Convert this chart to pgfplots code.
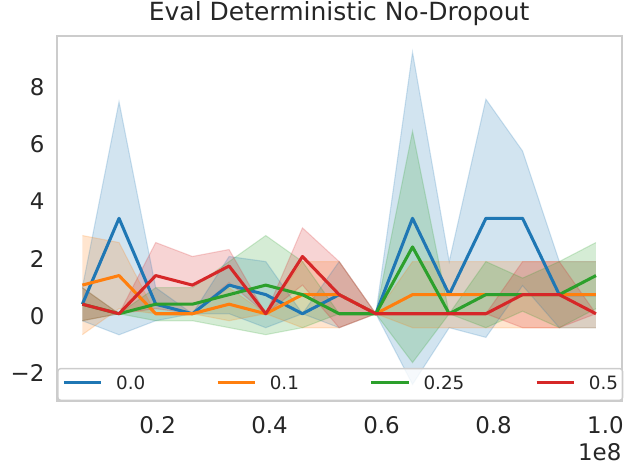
\documentclass[border=0pt]{standalone}
\usepackage{fontspec}
\setmainfont{DejaVu Sans}
\usepackage{pgfplots}
\usepackage{pgfplotstable}
\usepgfplotslibrary{fillbetween}
\pgfplotsset{compat=1.18}
\definecolor{cA}{RGB}{31,119,180}
\definecolor{cB}{RGB}{255,127,14}
\definecolor{cC}{RGB}{44,160,44}
\definecolor{cD}{RGB}{214,39,40}
\definecolor{txt}{RGB}{38,38,38}
\definecolor{frm}{RGB}{204,204,204}

\pgfplotstableread{
x m lo hi
0.065536 0.333 -0.244 0.911
0.131072 3.333 -0.737 7.403
0.196608 0.333 -0.244 0.911
0.262144 0 0 0
0.32768 1.0 0 2.0
0.393216 0.667 -0.488 1.822
0.458752 0 0 0
0.524288 0.667 -0.488 1.822
0.589824 0 0 0
0.65536 3.333 -2.467 9.133
0.720896 0.667 -0.488 1.822
0.786432 3.333 -0.827 7.493
0.851968 3.333 0.983 5.683
0.917504 0.667 -0.488 1.822
0.98304 0.667 -0.488 1.822
}\dataA

\pgfplotstableread{
x m lo hi
0.065536 1.0 -0.732 2.732
0.131072 1.333 0.178 2.488
0.196608 0 0 0
0.262144 0 0 0
0.32768 0.333 -0.244 0.911
0.393216 0 0 0
0.458752 0.667 -0.488 1.822
0.524288 0.667 -0.488 1.822
0.589824 0 0 0
0.65536 0.667 -0.488 1.822
0.720896 0.667 -0.488 1.822
0.786432 0.667 -0.488 1.822
0.851968 0.667 -0.488 1.822
0.917504 0.667 -0.488 1.822
0.98304 0.667 -0.488 1.822
}\dataB

\pgfplotstableread{
x m lo hi
0.065536 0.333 -0.244 0.911
0.131072 0 0 0
0.196608 0.333 -0.244 0.911
0.262144 0.333 -0.244 0.911
0.32768 0.667 -0.488 1.822
0.393216 1.0 -0.732 2.732
0.458752 0.667 -0.488 1.822
0.524288 0 0 0
0.589824 0 0 0
0.65536 2.333 -1.707 6.373
0.720896 0 0 0
0.786432 0.667 -0.488 1.822
0.851968 0.667 0.089 1.244
0.917504 0.667 -0.488 1.822
0.98304 1.333 0.178 2.488
}\dataC

\pgfplotstableread{
x m lo hi
0.065536 0.333 -0.244 0.911
0.131072 0 0 0
0.196608 1.333 0.178 2.488
0.262144 1.0 0 2.0
0.32768 1.667 1.089 2.244
0.393216 0 0 0
0.458752 2.0 1.0 3.0
0.524288 0.667 -0.488 1.822
0.589824 0 0 0
0.65536 0 0 0
0.720896 0 0 0
0.786432 0 0 0
0.851968 0.667 -0.488 1.822
0.917504 0.667 -0.488 1.822
0.98304 0 0 0
}\dataD

\begin{document}
\begin{tikzpicture}
\begin{axis}[
  name=ax,
  at={(0,0)}, anchor=south west,
  width=406.8bp, height=263bp, scale only axis,
  xmin=0.0196608, xmax=1.0289152, ymin=-3.047, ymax=9.713,
  xtick={0.2,0.4,0.6,0.8,1.0}, xticklabels={0.2,0.4,0.6,0.8,1.0},
  ytick={-2,0,2,4,6,8}, yticklabels={−2,0,2,4,6,8},
  scaled ticks=false,
  major tick length=0pt,
  tick label style={font=\fontsize{16.5bp}{19.8bp}\selectfont, text=txt, inner sep=0pt},
  xticklabel style={anchor=north, yshift=-11.3bp},
  yticklabel style={anchor=east, xshift=-8.6bp, yshift=-1.7bp},
  axis line style={draw=frm, line width=1.6bp},
  title={Eval Deterministic No-Dropout},
  title style={at={(0.5,1)}, anchor=base, yshift=5.3bp, inner sep=0pt, font=\fontsize{18bp}{21.6bp}\selectfont, text=txt},
  legend columns=4,
  legend cell align=left,
  legend style={at={(0,0)}, anchor=south west, xshift=0.4bp,
    draw=frm, line width=1bp, rounded corners=2bp,
    fill=white, fill opacity=0.8, draw opacity=1, text opacity=1,
    inner xsep=3.2bp, inner ysep=5.5bp,
    font=\fontsize{13.2bp}{15.8bp}\selectfont, text=txt,
    nodes={inner sep=0pt, text height=9.6bp, text depth=2.2bp},
    /tikz/every odd column/.append style={column sep=9.6bp},
    /tikz/every even column/.append style={column sep=51bp}},
  legend image code/.code={\draw[#1, line width=2.2bp] (0bp,1.55bp) -- (26.9bp,1.55bp);},
]
% bands
\addplot[name path=ahi, cA, draw opacity=0.2, line width=0.8bp, forget plot] table[x=x,y=hi]{\dataA};
\addplot[name path=alo, cA, draw opacity=0.2, line width=0.8bp, forget plot] table[x=x,y=lo]{\dataA};
\addplot[fill=cA, fill opacity=0.2, draw=none, forget plot] fill between[of=ahi and alo];
\addplot[name path=bhi, cB, draw opacity=0.2, line width=0.8bp, forget plot] table[x=x,y=hi]{\dataB};
\addplot[name path=blo, cB, draw opacity=0.2, line width=0.8bp, forget plot] table[x=x,y=lo]{\dataB};
\addplot[fill=cB, fill opacity=0.2, draw=none, forget plot] fill between[of=bhi and blo];
\addplot[name path=chi, cC, draw opacity=0.2, line width=0.8bp, forget plot] table[x=x,y=hi]{\dataC};
\addplot[name path=clo, cC, draw opacity=0.2, line width=0.8bp, forget plot] table[x=x,y=lo]{\dataC};
\addplot[fill=cC, fill opacity=0.2, draw=none, forget plot] fill between[of=chi and clo];
\addplot[name path=dhi, cD, draw opacity=0.2, line width=0.8bp, forget plot] table[x=x,y=hi]{\dataD};
\addplot[name path=dlo, cD, draw opacity=0.2, line width=0.8bp, forget plot] table[x=x,y=lo]{\dataD};
\addplot[fill=cD, fill opacity=0.2, draw=none, forget plot] fill between[of=dhi and dlo];
% means
\addplot[cA, line width=2.2bp, line join=round] table[x=x,y=m]{\dataA};
\addlegendentry{0.0}
\addplot[cB, line width=2.2bp, line join=round] table[x=x,y=m]{\dataB};
\addlegendentry{0.1}
\addplot[cC, line width=2.2bp, line join=round] table[x=x,y=m]{\dataC};
\addlegendentry{0.25}
\addplot[cD, line width=2.2bp, line join=round] table[x=x,y=m]{\dataD};
\addlegendentry{0.5}
\end{axis}
\node[anchor=north east, inner sep=0pt, font=\fontsize{16.5bp}{19.8bp}\selectfont, text=txt] at ([yshift=-30.5bp]ax.south east) {1e8};
\pgfresetboundingbox
\path[use as bounding box] (-40.8bp,-52.6bp) rectangle (415.7bp,288.7bp);
\end{tikzpicture}
\end{document}
